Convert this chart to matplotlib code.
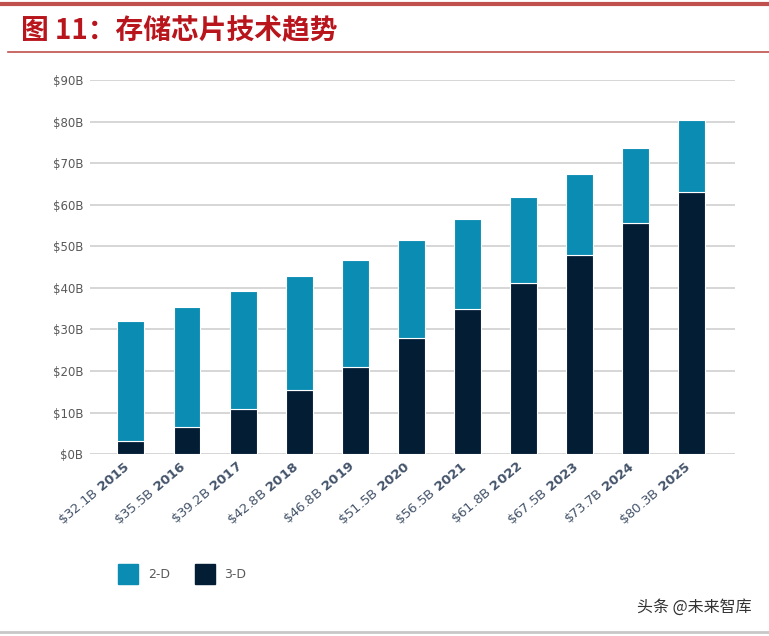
import numpy as np
import matplotlib.pyplot as plt
import matplotlib.transforms as mtransforms
from matplotlib.patches import Rectangle
from matplotlib.lines import Line2D

plt.rcParams['font.family'] = ['Noto Sans CJK SC', 'DejaVu Sans']

years = ['2015', '2016', '2017', '2018', '2019', '2020', '2021', '2022', '2023', '2024', '2025']
totals = [32.1, 35.5, 39.2, 42.8, 46.8, 51.5, 56.5, 61.8, 67.5, 73.7, 80.3]
three_d = [3.1, 6.5, 10.8, 15.4, 21.0, 27.9, 34.9, 41.1, 47.9, 55.6, 63.0]
two_d = [t - d for t, d in zip(totals, three_d)]
yticks = [0, 10, 20, 30, 40, 50, 60, 70, 80, 90]

c2d = '#0b8db3'
c3d = '#031d35'

fig = plt.figure(figsize=(7.69, 6.36), dpi=100)
ax = fig.add_axes([0.117, 0.286, 0.839, 0.588])

x = np.arange(len(years))
ax.bar(x, three_d, width=0.48, color=c3d, edgecolor='white', linewidth=0.8, zorder=3)
ax.bar(x, two_d, bottom=three_d, width=0.48, color=c2d, edgecolor='white', linewidth=0.8, zorder=3)

ax.set_ylim(0, 90)
ax.set_xlim(-0.73, 10.77)
ax.set_yticks(yticks)
ax.set_yticklabels([f'${v}B' for v in yticks], fontsize=8.5, color='#595959', family='DejaVu Sans')
ax.yaxis.grid(True, color='#d0d0d0', linewidth=1.2, zorder=0)
ax.tick_params(axis='both', length=0, pad=5)
for s in ax.spines.values():
    s.set_visible(False)

ax.set_xticks(x)
ax.set_xticklabels([r'\$%.1fB $\mathbf{%s}$' % (t, y) for t, y in zip(totals, years)],
                   rotation=40, ha='right', rotation_mode='anchor', fontsize=9.5, color='#44546a',
                   family='DejaVu Sans')
ax.tick_params(axis='x', pad=3)
shift = mtransforms.ScaledTranslation(-8 / 100, 0, fig.dpi_scale_trans)
for lbl in ax.get_xticklabels():
    lbl.set_transform(lbl.get_transform() + shift)

# title and rules
fig.add_artist(Line2D([0.0, 1.0], [0.993, 0.993], color='#c0504d', linewidth=3))
fig.add_artist(Line2D([0.01, 1.0], [0.918, 0.918], color='#c0504d', linewidth=1.2))
fig.text(0.027, 0.953, '图 11：存储芯片技术趋势', fontsize=20, fontweight='bold',
         color='#b8151c', va='center', ha='left')
fig.add_artist(Line2D([0.0, 1.0], [0.006, 0.006], color='#c8c8c8', linewidth=2))

# legend
fig.add_artist(Rectangle((118 / 769, 1 - 584 / 636), 20 / 769, 20 / 636, color=c2d))
fig.text(148 / 769, 1 - 575 / 636, '2-D', fontsize=9, color='#595959', va='center', family='DejaVu Sans')
fig.add_artist(Rectangle((195 / 769, 1 - 584 / 636), 20 / 769, 20 / 636, color=c3d))
fig.text(224 / 769, 1 - 575 / 636, '3-D', fontsize=9, color='#595959', va='center', family='DejaVu Sans')

fig.text(0.977, 1 - 607 / 636, '头条 @未来智库', fontsize=11.5, color='#333333', ha='right', va='center')

fig.savefig('out.png', dpi=100)
